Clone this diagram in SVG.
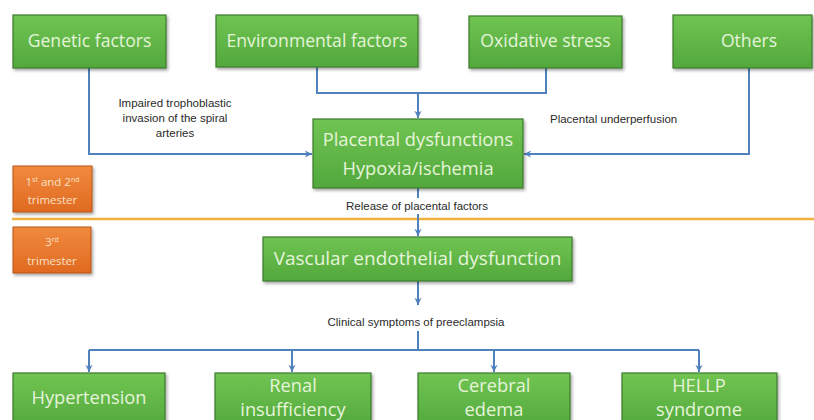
<svg xmlns="http://www.w3.org/2000/svg" width="814" height="420" viewBox="0 0 814 420">
  <defs>
    <linearGradient id="gGreen" x1="0" y1="0" x2="0" y2="1">
      <stop offset="0" stop-color="#70c452"/>
      <stop offset="1" stop-color="#52a83c"/>
    </linearGradient>
    <linearGradient id="gOrange" x1="0" y1="0" x2="0" y2="1">
      <stop offset="0" stop-color="#f08a3e"/>
      <stop offset="1" stop-color="#e06a20"/>
    </linearGradient>
    <filter id="shadow" x="-10%" y="-10%" width="130%" height="140%">
      <feDropShadow dx="1.5" dy="2" stdDeviation="1.5" flood-color="#000" flood-opacity="0.35"/>
    </filter>
    <marker id="arrow" viewBox="0 0 10 10" refX="9" refY="5" markerWidth="9" markerHeight="9" markerUnits="userSpaceOnUse" orient="auto">
      <path d="M1,1 L9,5 L1,9 L3.5,5 Z" fill="#4f81bd"/>
    </marker>
  </defs>
  <style>
    .box { fill: url(#gGreen); stroke: #3c7a2c; stroke-width: 1.2; filter: url(#shadow); }
    .tri { fill: url(#gOrange); stroke: #b9541a; stroke-width: 1; filter: url(#shadow); }
    .t { font-family: "Open Sans", "Liberation Sans", sans-serif; fill: #e6f4da; text-anchor: middle; }
    .tl { font-size: 17.6px; }
    .tm { font-size: 18.3px; }
    .tt { font-family: "Open Sans", "Liberation Sans", sans-serif; fill: #fbe0c8; text-anchor: middle; font-size: 11.5px; }
    .lbl { font-family: "Liberation Sans", Arial, sans-serif; fill: #2a2a2a; font-size: 11.5px; }
    .conn { fill: none; stroke: #4f81bd; stroke-width: 2; }
  </style>

  <rect width="814" height="420" fill="#ffffff"/>

  <!-- trimester divider -->
  <line x1="12" y1="219" x2="814" y2="219" stroke="#f2b33d" stroke-width="2.5"/>

  <!-- connectors -->
  <g id="connectors">
    <polyline class="conn" points="89,68 89,154 312,154" marker-end="url(#arrow)"/>
    <polyline class="conn" points="317,67 317,93 546,93 546,68"/>
    <line class="conn" x1="418" y1="93" x2="418" y2="118" marker-end="url(#arrow)"/>
    <polyline class="conn" points="749,68 749,154 524,154" marker-end="url(#arrow)"/>
    <line class="conn" x1="418" y1="188" x2="418" y2="198"/>
    <line class="conn" x1="418" y1="214" x2="418" y2="236" marker-end="url(#arrow)"/>
    <line class="conn" x1="418" y1="281" x2="418" y2="305" marker-end="url(#arrow)"/>
    <line class="conn" x1="418" y1="331" x2="418" y2="350"/>
    <line class="conn" x1="89" y1="350" x2="699" y2="350"/>
    <line class="conn" x1="89" y1="350" x2="89" y2="372" marker-end="url(#arrow)"/>
    <line class="conn" x1="292" y1="350" x2="292" y2="372" marker-end="url(#arrow)"/>
    <line class="conn" x1="494" y1="350" x2="494" y2="372" marker-end="url(#arrow)"/>
    <line class="conn" x1="699" y1="350" x2="699" y2="372" marker-end="url(#arrow)"/>
  </g>

  <!-- connector labels -->
  <g id="labels">
    <text class="lbl" text-anchor="middle" x="175" y="107">Impaired trophoblastic</text>
    <text class="lbl" text-anchor="middle" x="175" y="122">invasion of the spiral</text>
    <text class="lbl" text-anchor="middle" x="175" y="137">arteries</text>
    <text class="lbl" x="550" y="123">Placental underperfusion</text>
    <text class="lbl" text-anchor="middle" x="417" y="210">Release of placental factors</text>
    <text class="lbl" text-anchor="middle" x="416" y="326" font-size="12.5">Clinical symptoms of preeclampsia</text>
  </g>

  <!-- cause nodes -->
  <g id="genetic">
    <rect class="box" x="13" y="15" width="153" height="53"/>
    <text class="t tl" x="89.5" y="47">Genetic factors</text>
  </g>
  <g id="environmental">
    <rect class="box" x="216" y="15" width="202" height="52"/>
    <text class="t tl" x="317" y="47">Environmental factors</text>
  </g>
  <g id="oxidative">
    <rect class="box" x="469" y="16" width="153" height="52"/>
    <text class="t tl" x="545.5" y="47">Oxidative stress</text>
  </g>
  <g id="others">
    <rect class="box" x="673" y="15" width="139" height="53"/>
    <text class="t tl" x="749" y="47">Others</text>
  </g>

  <!-- placental node -->
  <g id="placental">
    <rect class="box" x="313" y="119" width="210" height="69"/>
    <text class="t tm" x="418" y="146">Placental dysfunctions</text>
    <text class="t tm" x="418" y="175">Hypoxia/ischemia</text>
  </g>

  <!-- trimester tags -->
  <g id="trimester-1-2">
    <rect class="tri" x="13" y="166" width="79" height="46"/>
    <text class="tt" x="52.5" y="186">1<tspan font-size="7" dy="-4">st</tspan><tspan dy="4"> and 2</tspan><tspan font-size="7" dy="-4">nd</tspan></text>
    <text class="tt" x="52.5" y="204">trimester</text>
  </g>
  <g id="trimester-3">
    <rect class="tri" x="13" y="227" width="78" height="46"/>
    <text class="tt" x="52" y="246">3<tspan font-size="7" dy="-4">rd</tspan></text>
    <text class="tt" x="52" y="265">trimester</text>
  </g>

  <!-- endothelial node -->
  <g id="endothelial">
    <rect class="box" x="263" y="237" width="309" height="44"/>
    <text class="t" font-size="19" x="417.5" y="265">Vascular endothelial dysfunction</text>
  </g>

  <!-- clinical outcome nodes -->
  <g id="hypertension">
    <rect class="box" x="13" y="373" width="152" height="56"/>
    <text class="t tm" x="89" y="404">Hypertension</text>
  </g>
  <g id="renal">
    <rect class="box" x="215" y="373" width="156" height="56"/>
    <text class="t tm" x="293" y="392">Renal</text>
    <text class="t tm" x="293" y="416">insufficiency</text>
  </g>
  <g id="cerebral">
    <rect class="box" x="418" y="373" width="152" height="56"/>
    <text class="t tm" x="494" y="392">Cerebral</text>
    <text class="t tm" x="494" y="416">edema</text>
  </g>
  <g id="hellp">
    <rect class="box" x="622" y="373" width="155" height="56"/>
    <text class="t tm" x="699" y="392">HELLP</text>
    <text class="t tm" x="699" y="416">syndrome</text>
  </g>
</svg>
